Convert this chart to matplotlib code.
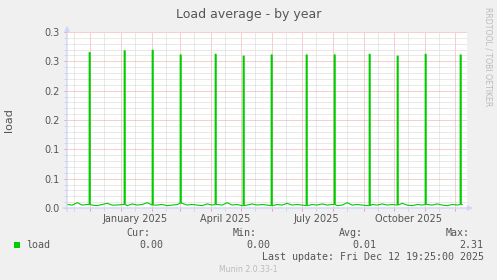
import datetime as dt
import matplotlib
matplotlib.use("Agg")
import matplotlib.pyplot as plt
import matplotlib.dates as mdates
from matplotlib.ticker import FixedLocator, MultipleLocator, FuncFormatter

# munin "load" plugin, yearly view (1 day per pixel, 400 days)
last_update = dt.datetime(2025, 12, 12, 19, 25)
first_day = dt.datetime(2024, 11, 8)

# baseline load, one sample every 5 days
base_step = 5
base_load = [0.006, 0.005, 0.009, 0.005, 0.006, 0.005, 0.004, 0.006, 0.008, 0.005,
             0.005, 0.006, 0.004, 0.007, 0.005, 0.006, 0.009, 0.005, 0.005, 0.006,
             0.004, 0.005, 0.006, 0.008, 0.005, 0.006, 0.005, 0.004, 0.007, 0.005,
             0.006, 0.005, 0.009, 0.005, 0.006, 0.004, 0.005, 0.007, 0.005, 0.006,
             0.005, 0.004, 0.006, 0.005, 0.008, 0.005, 0.006, 0.005, 0.004, 0.006,
             0.005, 0.007, 0.005, 0.006, 0.004, 0.005, 0.009, 0.005, 0.006, 0.005,
             0.004, 0.006, 0.005, 0.007, 0.005, 0.006, 0.005, 0.008, 0.005, 0.004,
             0.006, 0.005, 0.006, 0.005, 0.007, 0.005, 0.004, 0.006, 0.005, 0.006]

# monthly peaks (daily average)
spike_dates = ["2024-11-30", "2025-01-04", "2025-02-01", "2025-03-01", "2025-04-05",
               "2025-05-03", "2025-05-31", "2025-07-05", "2025-08-02", "2025-09-06",
               "2025-10-04", "2025-11-01", "2025-12-06"]
spike_load = [0.265, 0.268, 0.269, 0.261, 0.262, 0.259, 0.261,
              0.261, 0.261, 0.262, 0.259, 0.262, 0.261]

y_ticks = [0.0, 0.05, 0.10, 0.15, 0.20, 0.25, 0.30]
y_labels = ["0.0", "0.1", "0.1", "0.2", "0.2", "0.3", "0.3"]
label_months = {1: "January", 4: "April", 7: "July", 10: "October"}

stats_names = ["Cur:", "Min:", "Avg:", "Max:"]
stats_vals = ["0.00", "0.00", "0.01", "2.31"]

# build the series
pts = {}
for i, v in enumerate(base_load):
    pts[first_day + dt.timedelta(days=base_step * i)] = v
for ds, v in zip(spike_dates, spike_load):
    d = dt.datetime.strptime(ds, "%Y-%m-%d")
    near = min(pts, key=lambda k: abs((k - d).days))
    b = pts[near]
    pts[d - dt.timedelta(hours=1)] = b
    pts[d] = v
    pts[d + dt.timedelta(days=1)] = v
    pts[d + dt.timedelta(days=1, hours=1)] = b
xs = sorted(pts)
ys = [pts[k] for k in xs]

W, H = 497, 280
FONT = "#555555"
AXIS = "#CFD6F8"
MGRID = "#F2A0A0"
GRID = "#D4D4D4"

fig = plt.figure(figsize=(W / 100, H / 100), dpi=100, facecolor="#F0F0F0")
ax = fig.add_axes([67 / W, (H - 208) / H, 400 / W, 176 / H])
ax.set_facecolor("white")

ax.plot(xs, ys, color="#00CC00", lw=0.8, solid_joinstyle="miter", zorder=3)

ax.set_xlim(last_update - dt.timedelta(days=400), last_update)
ax.set_ylim(0, 0.3)

# y axis
ax.yaxis.set_major_locator(FixedLocator(y_ticks))
ax.set_yticklabels(y_labels)
ax.yaxis.set_minor_locator(MultipleLocator(0.01))

# x axis: red at month start, gray at mid month, labels every quarter
ax.xaxis.set_major_locator(mdates.MonthLocator(bymonthday=1))
ax.xaxis.set_major_formatter(FuncFormatter(lambda x, p: ""))
ax.xaxis.set_minor_locator(mdates.MonthLocator(bymonthday=15))


def month_label(x, pos):
    d = mdates.num2date(x)
    if d.month in label_months:
        return f"{label_months[d.month]} {d.year}"
    return ""


ax.xaxis.set_minor_formatter(FuncFormatter(month_label))

dots = (0, (1, 1))
ax.grid(which="major", color=MGRID, lw=0.72, linestyle=dots)
ax.grid(which="minor", color=GRID, lw=0.72, linestyle=dots)
ax.set_axisbelow(True)

ax.tick_params(which="major", length=2, width=0.72, color=MGRID, direction="out",
               labelsize=7, labelcolor=FONT)
ax.tick_params(which="minor", length=2, width=0.72, color=GRID, direction="out",
               labelsize=7, labelcolor=FONT)
ax.tick_params(axis="y", which="both", pad=3.5)
ax.tick_params(axis="x", which="both", pad=2.5)

for s in ax.spines.values():
    s.set_visible(False)

# axis lines with arrows
arrow = dict(arrowstyle="-|>", color=AXIS, lw=1.0, mutation_scale=7, shrinkA=0, shrinkB=0)
ax.annotate("", xy=(0, 1.035), xytext=(0, -0.02), xycoords="axes fraction",
            arrowprops=arrow, annotation_clip=False)
ax.annotate("", xy=(1.015, 0), xytext=(-0.01, 0), xycoords="axes fraction",
            arrowprops=arrow, annotation_clip=False)


def fx(px):
    return px / W


def fy(py):
    return 1 - py / H


fig.text(fx(248.7), fy(18.3), "Load average - by year", ha="center", va="baseline",
         fontsize=9, color=FONT)
fig.text(fx(9), fy(120), "load", rotation=90, ha="center", va="center",
         fontsize=8, color=FONT)
fig.text(fx(488), fy(56.5), "RRDTOOL / TOBI OETIKER", rotation=270, ha="center",
         va="center", fontsize=5.6, color="#BBBBBB")

mono = dict(family="DejaVu Sans Mono", fontsize=7.2, color=FONT, va="center")
name_x = [150, 256.5, 362.5, 470]
val_x = [163.5, 270, 376.5, 483.5]
for n, v, nx, vx in zip(stats_names, stats_vals, name_x, val_x):
    fig.text(fx(nx), fy(233.5), n, ha="right", **mono)
    fig.text(fx(vx), fy(245), v, ha="right", **mono)

fig.patches.append(plt.Rectangle((fx(14), fy(247.7)), 6 / W, 6 / H,
                                 transform=fig.transFigure, facecolor="#00CC00",
                                 edgecolor="none"))
fig.text(fx(26), fy(245), "load", ha="left", **mono)
fig.text(fx(483.5), fy(257.5), "Last update: Fri Dec 12 19:25:00 2025", ha="right", **mono)
fig.text(fx(248.5), fy(269.3), "Munin 2.0.33-1", ha="center", va="center",
         fontsize=5.6, color="#BBBBBB")

fig.savefig("out.png", dpi=100, facecolor=fig.get_facecolor())
